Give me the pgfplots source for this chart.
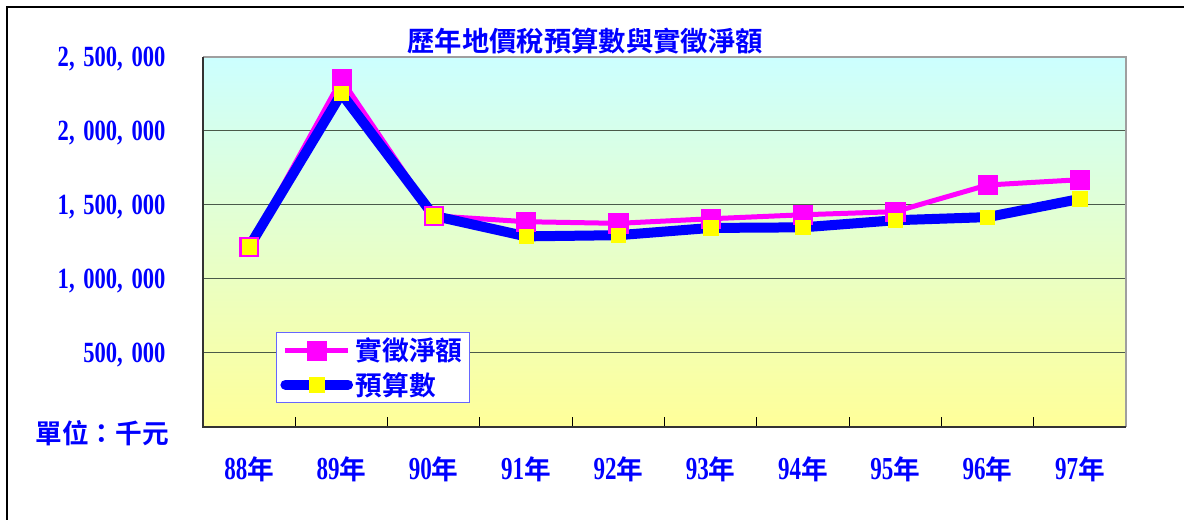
\documentclass[border=0pt]{standalone}
\usepackage{fontspec}
\usepackage{pgfplots}
\pgfplotsset{compat=1.18}
\setmainfont{Liberation Serif}
\newfontfamily\cjk{Noto Sans CJK TC Bold}
\newfontfamily\ynum{Liberation Serif Bold}[FakeStretch=0.77]
\newfontfamily\xnum{Liberation Serif Bold}[FakeStretch=0.72]
\definecolor{tblue}{HTML}{0000FF}
\definecolor{tpink}{HTML}{FF00FF}
\definecolor{tyel}{HTML}{FFFF00}
\definecolor{bgtop}{HTML}{CCFFFF}
\definecolor{bgbot}{HTML}{FFFF99}
\definecolor{gridc}{HTML}{4A5A4A}
\definecolor{legb}{HTML}{6666FF}
\newcommand{\yr}[1]{{\fontsize{24}{24}\selectfont\xnum #1}{\fontsize{20}{20}\selectfont\cjk 年}}
\newcommand{\cm}{,\kern6.5pt}
\newcommand{\yl}[1]{{\fontsize{22}{22}\selectfont\ynum #1}}
\begin{document}
\begin{tikzpicture}[x=0.75pt,y=0.75pt]
\path[use as bounding box] (0,0) rectangle (1184,520);
% outer frame (left and top)
\draw[black, line width=1.2pt] (7,-5) -- (7,513) -- (1190,513);
\begin{axis}[
  at={(152.25pt,69.75pt)}, anchor=south west,
  scale only axis, width=692.25pt, height=277.5pt,
  xmin=-0.5, xmax=9.5, ymin=0, ymax=2500000,
  axis line style={draw=none},
  axis background/.style={top color=bgtop, bottom color=bgbot},
  xtick={0,...,9},
  xticklabels={\yr{88},\yr{89},\yr{90},\yr{91},\yr{92},\yr{93},\yr{94},\yr{95},\yr{96},\yr{97}},
  major x tick style={draw=none},
  minor xtick={0.5,1.5,...,8.5},
  minor x tick style={black, line width=0.75pt},
  minor tick length=7.5pt,
  tick align=inside,
  xtick pos=bottom, ytick pos=left,
  xticklabel style={anchor=center, yshift=-32pt, text=tblue, inner sep=0pt},
  ytick={0,500000,1000000,1500000,2000000,2500000},
  yticklabels={,\yl{500\cm000},\yl{1\cm000\cm000},\yl{1\cm500\cm000},\yl{2\cm000\cm000},\yl{2\cm500\cm000}},
  scaled y ticks=false,
  yticklabel style={anchor=east, xshift=-28pt, yshift=-1.5pt, text=tblue, inner sep=0pt},
  major y tick style={gridc, line width=0.75pt},
  major tick length=5pt,
  ymajorgrids, major grid style={gridc, line width=0.75pt},
  clip=false,
  legend style={at={(0.079,0.065)}, anchor=south west, draw=legb, fill=white,
    line width=0.75pt, inner xsep=3pt, inner ysep=2pt, row sep=3pt,
    font=\fontsize{20}{20}\selectfont\cjk, text=tblue,
    nodes={inner sep=2pt}},
  legend cell align=left,
  legend image code/.code={\draw[mark repeat=2,mark phase=2,#1] plot coordinates {(0pt,0pt) (23.5pt,0pt) (47pt,0pt)};},
]
\addplot[tpink, line width=3.75pt, mark=square*, mark size=7.2pt,
  mark options={fill=tpink, draw=tpink, line width=0.4pt}]
  coordinates {(0,1218000) (1,2349000) (2,1427000) (3,1387000) (4,1376000)
               (5,1407000) (6,1434000) (7,1455000) (8,1635000) (9,1671000)};
\addlegendentry{實徵淨額}
\addplot[tblue, line width=7.5pt, line cap=round, mark=square*, mark size=5.4pt,
  mark options={fill=tyel, draw=tyel, line width=0.4pt}]
  coordinates {(0,1218000) (1,2253000) (2,1427000) (3,1288000) (4,1296000)
               (5,1345000) (6,1349000) (7,1397000) (8,1418000) (9,1541000)};
\addlegendentry{預算數}
\draw[gray!75, line width=2pt] (rel axis cs:0,1) -- (rel axis cs:1,1) -- (rel axis cs:1,0);
\draw[black!80, line width=1.5pt] (rel axis cs:0,1) -- (rel axis cs:0,0) -- (rel axis cs:1,0);
\end{axis}
\node[font=\fontsize{20.5}{20.5}\selectfont\cjk, text=tblue] at (585,479) {歷年地價稅預算數與實徵淨額};
\node[font=\fontsize{20}{20}\selectfont\cjk, text=tblue] at (102,87) {單位：千元};
\end{tikzpicture}
\end{document}
